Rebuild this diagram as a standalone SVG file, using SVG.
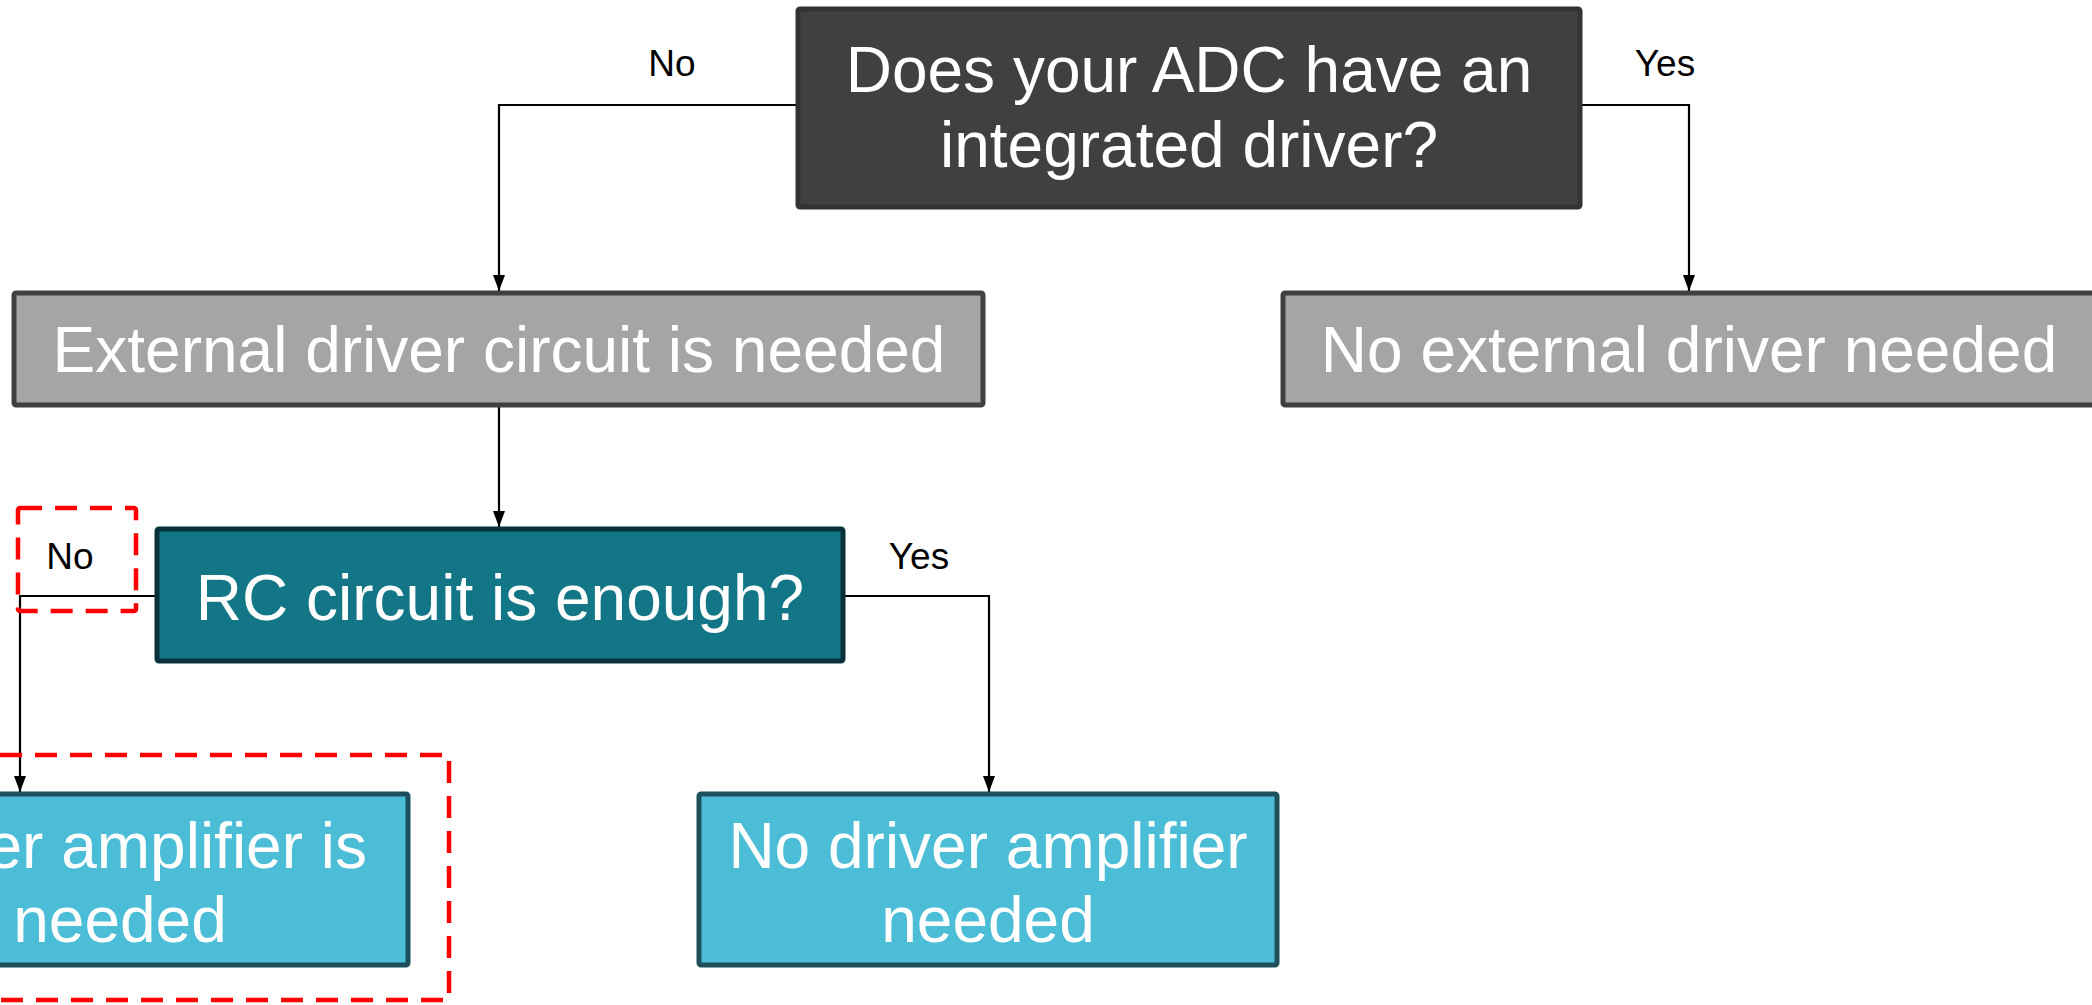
<svg xmlns="http://www.w3.org/2000/svg" width="2092" height="1005" viewBox="0 0 2092 1005">
<style>
  .box{stroke-width:5}
  .dark{fill:#404040;stroke:#333333}
  .gray{fill:#a5a5a5;stroke:#404040}
  .teal{fill:#137686;stroke:#08313a}
  .light{fill:#4bbdd6;stroke:#1d4f5c}
  .t{font-family:"Liberation Sans",Arial,sans-serif;font-size:64px;fill:#ffffff;text-anchor:middle}
  .lbl{font-family:"Liberation Sans",Arial,sans-serif;font-size:37px;fill:#000000;text-anchor:middle}
  .con{fill:none;stroke:#000000;stroke-width:2.2;marker-end:url(#arr)}
  .hl{fill:none;stroke:#ff0000;stroke-width:4.5;stroke-dasharray:22 13}
</style>
<defs>
  <marker id="arr" viewBox="0 0 16 12" refX="16" refY="6" markerWidth="16" markerHeight="12" markerUnits="userSpaceOnUse" orient="auto">
    <path d="M0,0 L16,6 L0,12 Z" fill="#000000"/>
  </marker>
</defs>
<rect width="2092" height="1005" fill="#ffffff"/>
<g id="connectors">
  <path class="con" d="M798,105 H499 V291"/>
  <path class="con" d="M1580,105 H1689 V291"/>
  <path class="con" d="M499,406 V527"/>
  <path class="con" d="M843,596 H989 V792"/>
  <path class="con" d="M156,596 H20 V792"/>
  <text class="lbl" x="672" y="76">No</text>
  <text class="lbl" x="1665" y="76">Yes</text>
  <text class="lbl" x="919" y="569">Yes</text>
  <text class="lbl" x="70" y="569">No</text>
</g>
<g id="n1">
  <rect class="box dark" x="798" y="9" width="782" height="198" rx="2"/>
  <text class="t" x="1189" y="92">Does your ADC have an</text>
  <text class="t" x="1189" y="167">integrated driver?</text>
</g>
<g id="n2">
  <rect class="box gray" x="14" y="293" width="969" height="112" rx="2"/>
  <text class="t" x="499" y="372">External driver circuit is needed</text>
</g>
<g id="n3">
  <rect class="box gray" x="1283" y="293" width="820" height="112" rx="2"/>
  <text class="t" x="1689" y="372">No external driver needed</text>
</g>
<g id="n4">
  <rect class="box teal" x="157" y="529" width="686" height="132" rx="2"/>
  <text class="t" x="500" y="620">RC circuit is enough?</text>
</g>
<g id="n5">
  <rect class="box light" x="-170" y="794" width="578" height="171" rx="2"/>
  <text class="t" x="367" y="868" style="text-anchor:end">er amplifier is</text>
  <text class="t" x="120" y="942">needed</text>
</g>
<g id="n6">
  <rect class="box light" x="699" y="794" width="578" height="171" rx="2"/>
  <text class="t" x="988" y="868">No driver amplifier</text>
  <text class="t" x="988" y="942">needed</text>
</g>
<g id="highlights">
  <rect class="hl" x="18" y="508" width="118" height="103" rx="2"/>
  <path class="hl" d="M0,755 H449 V1000 H0"/>
</g>
</svg>
